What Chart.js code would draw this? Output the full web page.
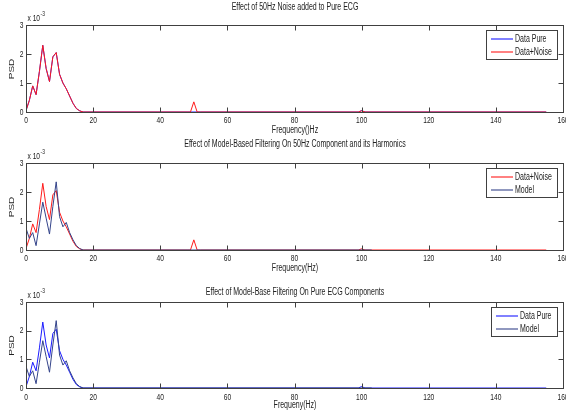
<!DOCTYPE html>
<html>
<head>
<meta charset="utf-8">
<script src="https://cdn.jsdelivr.net/npm/chart.js@4.4.1/dist/chart.umd.min.js"></script>
<style>
  body { margin: 0; background: #fff; }
  canvas { position: absolute; left: 0; }
</style>
</head>
<body>
<canvas id="panel1" width="566" height="138" style="top:0px"></canvas>
<canvas id="panel2" width="566" height="138" style="top:138px"></canvas>
<canvas id="panel3" width="566" height="136" style="top:276px"></canvas>
<script>
"use strict";

// frequencies (Hz) and PSD values (x 10^-3)
var freqNoise = [0, 1, 2, 3, 4, 5, 6, 7, 8, 9, 10, 11, 12, 13, 14, 15, 16, 17, 48, 49, 50, 51, 52, 99, 100, 101, 155];
var psdNoise = [0.05, 0.4, 0.9, 0.6, 1.4, 2.3, 1.5, 1.05, 1.9, 2.05, 1.3, 1.0, 0.8, 0.55, 0.3, 0.12, 0.04, 0, 0, 0, 0.35, 0, 0, 0, 0.04, 0, 0];

var freqPure = [0, 1, 2, 3, 4, 5, 6, 7, 8, 9, 10, 11, 12, 13, 14, 15, 16, 17, 99, 100, 101, 155];
var psdPure = [0.05, 0.4, 0.9, 0.6, 1.4, 2.3, 1.5, 1.05, 1.9, 2.05, 1.3, 1.0, 0.8, 0.55, 0.3, 0.12, 0.04, 0, 0, 0.05, 0, 0];

var freqModel = [0, 1, 2, 3, 4, 5, 6, 7, 8, 9, 10, 11, 12, 13, 14, 15, 16, 17, 103];
var psdModel = [0.75, 0.4, 0.6, 0.15, 0.9, 1.65, 1.1, 0.55, 1.5, 2.35, 1.15, 0.8, 0.95, 0.6, 0.35, 0.15, 0.05, 0, 0];

var xTicks = [0, 20, 40, 60, 80, 100, 120, 140, 160];
var yTicks = [0, 1, 2, 3];

var titles = [
  "Effect of 50Hz Noise added to Pure ECG",
  "Effect of Model-Based Filtering On 50Hz Component and its Harmonics",
  "Effect of Model-Base Filtering On Pure ECG Components"
];
var xTitles = ["Frequency()Hz", "Frequency(Hz)", "Frequeny(Hz)"];

var RED = "#ff1a1a";
var BLUE = "#1a1aff";
var MODEL = "#34448a";
var FONT = "'Liberation Sans', Arial, sans-serif";
var SQUEEZE = 0.7; // the figure text is narrow

function series(label, xs, ys, color, order) {
  return {
    label: label,
    data: xs.map((x, i) => ({ x: x, y: ys[i] })),
    borderColor: color,
    backgroundColor: color,
    borderWidth: 1,
    pointRadius: 0,
    tension: 0,
    order: order,
  };
}

function text(ctx, str, x, y, size, align, rotate) {
  ctx.save();
  ctx.font = size + "px " + FONT;
  ctx.fillStyle = "#222";
  ctx.textAlign = align;
  ctx.textBaseline = "middle";
  ctx.translate(x, y);
  if (rotate) {
    ctx.rotate(-Math.PI / 2);
    ctx.scale(1, SQUEEZE);
  } else {
    ctx.scale(SQUEEZE, 1);
  }
  ctx.fillText(str, 0, 0);
  let w = ctx.measureText(str).width * SQUEEZE;
  ctx.restore();
  return w;
}

// matlab style box, inward ticks, labels and legend
var matlabFrame = {
  id: "matlabFrame",
  afterDraw(chart, args, opts) {
    let ctx = chart.ctx;
    let a = chart.chartArea;
    let sx = chart.scales.x;
    let sy = chart.scales.y;
    ctx.save();
    ctx.strokeStyle = "#404040";
    ctx.lineWidth = 1;
    let L = Math.round(a.left) + 0.5, R = Math.round(a.right) + 0.5;
    let T = Math.round(a.top) + 0.5, B = Math.round(a.bottom) + 0.5;
    ctx.strokeRect(L, T, R - L, B - T);
    ctx.beginPath();
    xTicks.forEach((v) => {
      let px = Math.round(sx.getPixelForValue(v)) + 0.5;
      ctx.moveTo(px, B); ctx.lineTo(px, B - 5);
      ctx.moveTo(px, T); ctx.lineTo(px, T + 5);
    });
    yTicks.forEach((v) => {
      let py = Math.round(sy.getPixelForValue(v)) + 0.5;
      ctx.moveTo(L, py); ctx.lineTo(L + 5, py);
      ctx.moveTo(R, py); ctx.lineTo(R - 5, py);
    });
    ctx.stroke();
    ctx.restore();

    // tick labels
    xTicks.forEach((v) => {
      text(ctx, String(v), sx.getPixelForValue(v), B + opts.tickGap, 9.5, "center");
    });
    yTicks.forEach((v) => {
      text(ctx, String(v), L - 3, sy.getPixelForValue(v), 9.5, "right");
    });

    // titles
    text(ctx, titles[opts.idx], (L + R) / 2, opts.titleY, 10, "center");
    text(ctx, xTitles[opts.idx], (L + R) / 2, B + opts.xTitleGap, 10, "center");
    text(ctx, "PSD", 12, (T + B) / 2, 10, "center", true);

    // exponent label
    let w = text(ctx, "x 10", L + 1, T - 7, 9.5, "left");
    text(ctx, "-3", L + 1 + w + 0.5, T - 11, 7, "left");

    // legend
    ctx.save();
    ctx.font = "10px " + FONT;
    let sets = chart.data.datasets;
    let tw = Math.max.apply(null, sets.map((d) => ctx.measureText(d.label).width)) * SQUEEZE;
    let bw = Math.round(5 + 22 + 2 + tw + 5);
    let bh = 29;
    let bx = Math.round(a.right) - 6 - bw;
    let by = Math.round(a.top) + 5;
    ctx.fillStyle = "#fff";
    ctx.fillRect(bx, by, bw, bh);
    ctx.strokeStyle = "#404040";
    ctx.lineWidth = 1;
    ctx.strokeRect(bx + 0.5, by + 0.5, bw, bh);
    sets.forEach((d, i) => {
      let ly = by + 9 + i * 13;
      ctx.strokeStyle = d.borderColor;
      ctx.globalAlpha = 0.55;
      ctx.lineWidth = 2;
      ctx.beginPath();
      ctx.moveTo(bx + 5, ly); ctx.lineTo(bx + 27, ly);
      ctx.stroke();
      ctx.globalAlpha = 1;
    });
    ctx.restore();
    sets.forEach((d, i) => {
      text(ctx, d.label, bx + 29, by + 9.5 + i * 13, 10, "left");
    });
  },
};

function makePanel(id, idx, datasets, pad, tickGap, xTitleGap, titleY) {
  return new Chart(document.getElementById(id), {
    type: "line",
    data: { datasets: datasets },
    plugins: [matlabFrame],
    options: {
      responsive: false,
      animation: false,
      devicePixelRatio: 1,
      layout: { padding: pad },
      plugins: {
        legend: { display: false },
        tooltip: { enabled: false },
        matlabFrame: { idx: idx, tickGap: tickGap, xTitleGap: xTitleGap, titleY: titleY },
      },
      scales: {
        x: { type: "linear", display: false, min: 0, max: 160 },
        y: { display: false, min: 0, max: 3 },
      },
    },
  });
}

makePanel("panel1", 0, [
  series("Data Pure", freqPure, psdPure, BLUE, 2),
  series("Data+Noise", freqNoise, psdNoise, RED, 1),
], { left: 26, right: 3, top: 25, bottom: 26 }, 8, 18, 7);

makePanel("panel2", 1, [
  series("Data+Noise", freqNoise, psdNoise, RED, 2),
  series("Model", freqModel, psdModel, MODEL, 1),
], { left: 26, right: 3, top: 25, bottom: 26 }, 8, 18, 6);

makePanel("panel3", 2, [
  series("Data Pure", freqPure, psdPure, BLUE, 2),
  series("Model", freqModel, psdModel, MODEL, 1),
], { left: 26, right: 3, top: 26, bottom: 24 }, 9, 17, 16);
</script>
</body>
</html>
